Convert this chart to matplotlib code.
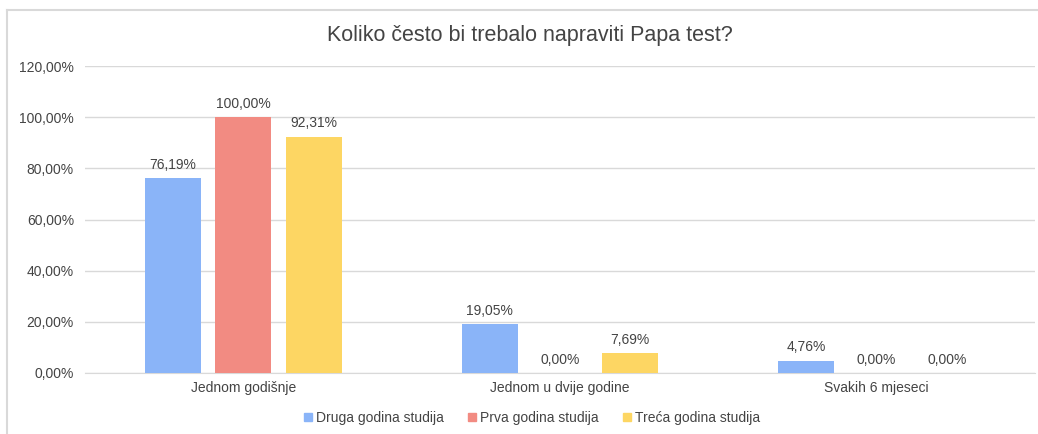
import numpy as np
import matplotlib.pyplot as plt
from matplotlib.lines import Line2D

categories = ['Jednom godišnje', 'Jednom u dvije godine', 'Svakih 6 mjeseci']
series = ['Druga godina studija', 'Prva godina studija', 'Treća godina studija']
druga = [76.19, 19.05, 4.76]
prva = [100.00, 0.00, 0.00]
treca = [92.31, 7.69, 0.00]
yticks = [0, 20, 40, 60, 80, 100, 120]

colors = ['#8ab4f8', '#f28b82', '#fdd663']
text_col = '#444444'

plt.rcParams['font.family'] = ['Liberation Sans', 'DejaVu Sans']

fig = plt.figure(figsize=(10.38, 4.34), dpi=100)
ax = fig.add_axes([85 / 1038, 1 - 373 / 434, 950 / 1038, 307 / 434])

x = np.arange(len(categories))
w = 0.177
step = 0.222
for i, (vals, c) in enumerate(zip([druga, prva, treca], colors)):
    pos = x + (i - 1) * step
    ax.bar(pos, vals, width=w, color=c, zorder=3)
    for p, v in zip(pos, vals):
        ax.text(p, v + 2.5, f'{v:.2f}'.replace('.', ',') + '%', ha='center', va='bottom',
                fontsize=10, color=text_col)

ax.set_xlim(-0.5, 2.5)
ax.set_ylim(0, 120)
ax.set_yticks(yticks)
ax.set_yticklabels([f'{t:.2f}'.replace('.', ',') + '%' for t in yticks], fontsize=10, color=text_col)
ax.set_xticks(x)
ax.set_xticklabels(categories, fontsize=10, color=text_col)
ax.tick_params(length=0, pad=8)
ax.tick_params(axis='x', pad=6)
ax.grid(axis='y', color='#d9d9d9', linewidth=1, zorder=0)
for s in ['top', 'right', 'left']:
    ax.spines[s].set_visible(False)
ax.spines['bottom'].set_color('#d9d9d9')

fig.text(530 / 1038, 1 - 36 / 434, 'Koliko često bi trebalo napraviti Papa test?',
         ha='center', va='center', fontsize=15.5, color=text_col)

handles = [Line2D([0], [0], marker='s', linestyle='', markersize=6,
                  markerfacecolor=c, markeredgecolor=c) for c in colors]
fig.legend(handles, series, loc='center', bbox_to_anchor=(532 / 1038, 1 - 418 / 434),
           ncol=3, frameon=False, fontsize=10, handlelength=0.6, handletextpad=0.3,
           columnspacing=1.7, labelcolor=text_col)

fig.add_artist(Line2D([7 / 1038, 7 / 1038], [0, 1 - 10 / 434], color='#d9d9d9',
                      linewidth=1.5, transform=fig.transFigure))
fig.add_artist(Line2D([7 / 1038, 1], [1 - 10 / 434, 1 - 10 / 434], color='#d9d9d9',
                      linewidth=1.5, transform=fig.transFigure))

fig.savefig('out.png', dpi=100)
